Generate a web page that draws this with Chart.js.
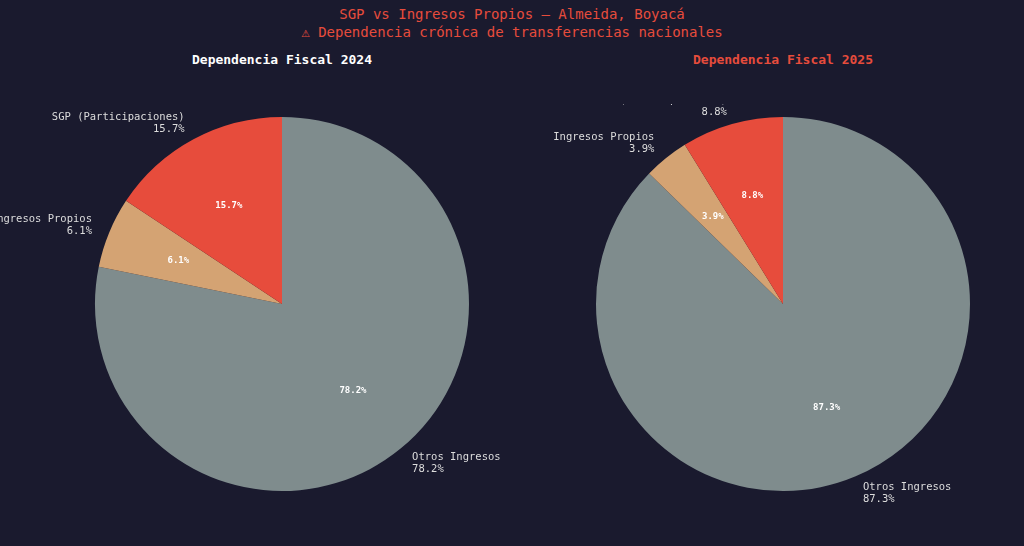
<!DOCTYPE html>
<html><head><meta charset="utf-8">
<script src="https://cdn.jsdelivr.net/npm/chart.js@4/dist/chart.umd.min.js"></script>
<style>
body{margin:0;background:#1a1a2e;width:1024px;height:546px;overflow:hidden;font-family:"DejaVu Sans Mono",monospace;position:relative}
.t{position:absolute;text-align:center;white-space:nowrap}
canvas{position:absolute}
</style></head><body>
<div class="t" style="left:0;width:1024px;top:5px;color:#e74c3c;font-size:14px;line-height:18px">SGP vs Ingresos Propios — Almeida, Boyacá<br>⚠ Dependencia crónica de transferencias nacionales</div>
<div class="t" style="left:82px;width:400px;top:52px;color:#fff;font-weight:bold;font-size:13px">Dependencia Fiscal 2024</div>
<div class="t" style="left:583px;width:400px;top:52px;color:#e74c3c;font-weight:bold;font-size:13px">Dependencia Fiscal 2025</div>
<div style="position:absolute;left:0;top:104px;width:564px;height:400px"><canvas id="c1"></canvas></div>
<div style="position:absolute;left:553px;top:104px;width:460px;height:400px"><canvas id="c2"></canvas></div>
<script>
// clockwise from top, so order is reversed vs. the reference legend
const categories = ['Otros Ingresos', 'Ingresos Propios', 'SGP (Participaciones)'];
const values2024 = [78.2, 6.1, 15.7];
const values2025 = [87.3, 3.9, 8.8];
const colors = ['#7f8c8d', '#d4a373', '#e74c3c'];
const FONT = '"DejaVu Sans Mono", monospace';

const labelPlugin = {
  id: 'pieLabels',
  afterDatasetsDraw(chart) {
    const ctx = chart.ctx;
    const data = chart.data.datasets[0].data;
    chart.getDatasetMeta(0).data.forEach((arc, i) => {
      const p = arc.getProps(['x', 'y', 'startAngle', 'endAngle', 'outerRadius']);
      const mid = (p.startAngle + p.endAngle) / 2;
      const c = Math.cos(mid), s = Math.sin(mid);
      ctx.save();
      // inside percentage
      ctx.fillStyle = '#fff';
      ctx.font = 'bold 9px ' + FONT;
      ctx.textAlign = 'center';
      ctx.textBaseline = 'middle';
      ctx.fillText(data[i].toFixed(1) + '%', p.x + c * p.outerRadius * 0.6, p.y + s * p.outerRadius * 0.6);
      // outside label
      const ox = p.x + c * p.outerRadius * 1.1, oy = p.y + s * p.outerRadius * 1.1;
      ctx.fillStyle = '#dddddd';
      ctx.font = '10.5px ' + FONT;
      ctx.textAlign = c >= 0 ? 'left' : 'right';
      ctx.fillText(categories[i], ox, oy - 6);
      ctx.fillText(data[i].toFixed(1) + '%', ox, oy + 6);
      ctx.restore();
    });
  }
};

function makePie(id, values) {
  new Chart(document.getElementById(id), {
    type: 'pie',
    data: { labels: categories, datasets: [{ data: values, backgroundColor: colors, borderWidth: 0 }] },
    options: {
      responsive: true,
      maintainAspectRatio: false,
      animation: false,
      layout: { padding: 13 },
      plugins: { legend: { display: false }, tooltip: { enabled: false } }
    },
    plugins: [labelPlugin]
  });
}
makePie('c1', values2024);
makePie('c2', values2025);
</script>
</body></html>
